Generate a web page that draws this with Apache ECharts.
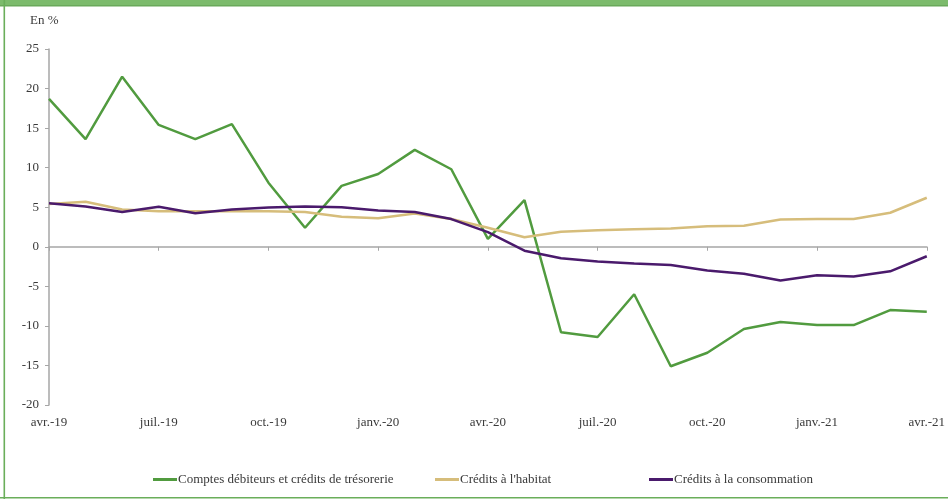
<!DOCTYPE html>
<html>
<head>
<meta charset="utf-8">
<script src="https://cdn.jsdelivr.net/npm/echarts@6/dist/echarts.min.js"></script>
<style>
  html, body { margin: 0; padding: 0; background: #fff; }
  #chart { width: 948px; height: 499px; }
</style>
</head>
<body>
<div id="chart"></div>
<script>
const months = [
  'avr.-19', 'mai-19', 'juin-19', 'juil.-19', 'août-19', 'sept.-19', 'oct.-19', 'nov.-19', 'déc.-19',
  'janv.-20', 'févr.-20', 'mars-20', 'avr.-20', 'mai-20', 'juin-20', 'juil.-20', 'août-20', 'sept.-20',
  'oct.-20', 'nov.-20', 'déc.-20', 'janv.-21', 'févr.-21', 'mars-21', 'avr.-21',
]
const comptes = [
  18.7, 13.6, 21.5, 15.4, 13.6, 15.5, 8.1, 2.4, 7.7, 9.2, 12.25, 9.8, 1.0,
  5.9, -10.8, -11.4, -6.0, -15.1, -13.4, -10.4, -9.5, -9.9, -9.9, -8.0, -8.2,
]
const habitat = [
  5.4, 5.7, 4.7, 4.5, 4.5, 4.5, 4.5, 4.4, 3.8, 3.6, 4.2, 3.5, 2.4,
  1.2, 1.9, 2.1, 2.2, 2.3, 2.6, 2.65, 3.45, 3.5, 3.5, 4.3, 6.2,
]
const consommation = [
  5.5, 5.1, 4.4, 5.05, 4.25, 4.7, 4.95, 5.1, 5.0, 4.6, 4.4, 3.5, 1.85,
  -0.5, -1.45, -1.85, -2.1, -2.3, -3.0, -3.4, -4.25, -3.6, -3.75, -3.1, -1.2,
]
const names = [
  'Comptes débiteurs et crédits de trésorerie',
  "Crédits à l'habitat",
  'Crédits à la consommation',
]
const colors = ['#519b3f', '#d6bd7b', '#4a1a6c']

const font = 'Liberation Serif'
const textColor = '#3a3a3a'
const axisColor = '#a6a6a6'

const chart = echarts.init(document.getElementById('chart'))

const mkLine = (name, data, color) => ({
  name,
  type: 'line',
  data,
  symbol: 'none',
  lineStyle: { width: 2.5, color },
  itemStyle: { color },
  z: 3,
})

// one legend per item, the gaps in the original are uneven
const mkLegend = (name, left) => ({
  top: 468,
  left,
  itemWidth: 24,
  itemHeight: 3,
  icon: 'rect',
  textStyle: { fontFamily: font, fontSize: 13, color: textColor, padding: [0, 0, 0, -4] },
  data: [name],
})

chart.setOption({
  animation: false,
  color: colors,
  grid: { left: 49, right: 21, top: 49, bottom: 94 },
  graphic: [
    { type: 'rect', shape: { x: 0, y: 0, width: 948, height: 6 }, style: { fill: '#7cbb6c' } },
    { type: 'rect', shape: { x: 0, y: 5, width: 948, height: 1.5 }, style: { fill: '#6aa95b' } },
    { type: 'rect', shape: { x: 3.5, y: 0, width: 1.6, height: 499 }, style: { fill: '#6aae5a' } },
    { type: 'rect', shape: { x: 0, y: 497, width: 948, height: 1.6 }, style: { fill: '#6aae5a' } },
    {
      type: 'text',
      left: 30,
      top: 14,
      style: { text: 'En %', font: `13px "${font}"`, fill: textColor },
    },
  ],
  legend: [
    mkLegend(names[0], 148),
    mkLegend(names[1], 430),
    mkLegend(names[2], 644),
  ],
  xAxis: [
    {
      type: 'category',
      data: months,
      boundaryGap: false,
      axisLine: { show: false, onZero: false },
      axisTick: { show: false },
      axisLabel: {
        interval: 2,
        margin: 11,
        fontFamily: font,
        fontSize: 13,
        color: textColor,
      },
    },
    {
      type: 'category',
      data: months,
      boundaryGap: false,
      position: 'bottom',
      axisLine: { show: true, onZero: true, lineStyle: { color: axisColor, width: 1.5 } },
      axisTick: { show: true, interval: 2, length: 4, lineStyle: { color: axisColor } },
      axisLabel: { show: false },
    },
  ],
  yAxis: {
    type: 'value',
    min: -20,
    max: 25,
    interval: 5,
    splitLine: { show: false },
    axisLine: { show: true, lineStyle: { color: axisColor, width: 1.5 } },
    axisTick: { show: true, length: 4, lineStyle: { color: axisColor } },
    axisLabel: { margin: 10, fontFamily: font, fontSize: 13, color: textColor },
  },
  series: [
    mkLine(names[0], comptes, colors[0]),
    mkLine(names[1], habitat, colors[1]),
    mkLine(names[2], consommation, colors[2]),
  ],
})
</script>
</body>
</html>
